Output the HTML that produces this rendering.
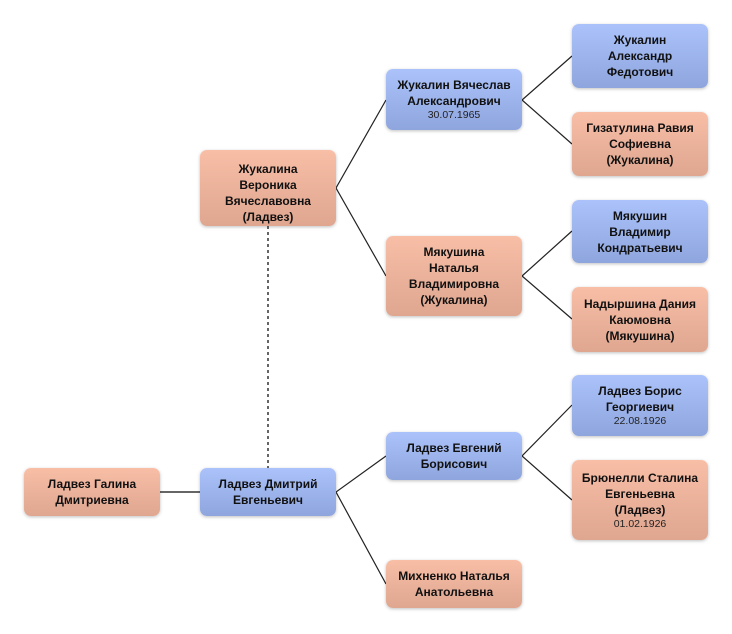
<!DOCTYPE html>
<html><head><meta charset="utf-8"><style>
body{margin:0;width:732px;height:634px;background:#fff;position:relative;overflow:hidden;font-family:"Liberation Sans",sans-serif;}
svg{position:absolute;left:0;top:0}
.b{position:absolute;width:136px;border-radius:7px;box-shadow:0 1px 3px rgba(0,0,0,.25);display:flex;flex-direction:column;justify-content:center;align-items:center;text-align:center;font-weight:bold;font-size:12px;line-height:16px;color:#111;overflow:hidden;box-sizing:border-box;padding:0 6px}
.m{background:linear-gradient(#abc2fa,#8ea5dd)}
.f{background:linear-gradient(#f8bea6,#dfa690)}
.d{font-weight:normal;font-size:10.5px;line-height:13px;color:#222}
</style></head><body>
<svg width="732" height="634">
<g stroke="#222" stroke-width="1.2" fill="none">
<polyline points="386,100 336,188 386,276"/>
<polyline points="386,456 336,492 386,584"/>
<polyline points="572,56 522,100 572,144"/>
<polyline points="572,231 522,276 572,319"/>
<polyline points="572,405 522,456 572,500"/>
</g>
<line x1="160" y1="492" x2="200" y2="492" stroke="#666" stroke-width="2"/>
<line x1="268" y1="226" x2="268" y2="468" stroke="#666" stroke-width="2" stroke-dasharray="3,3"/>
</svg>
<div class="b f" style="left:24px;top:468px;height:48px">Ладвез Галина Дмитриевна</div>
<div class="b m" style="left:200px;top:468px;height:48px">Ладвез Дмитрий Евгеньевич</div>
<div class="b f" style="left:200px;top:150px;height:76px;justify-content:flex-start;padding-top:11px">Жукалина<br>Вероника<br>Вячеславовна<br>(Ладвез)</div>
<div class="b m" style="left:386px;top:69px;height:61px">Жукалин Вячеслав Александрович<span class="d">30.07.1965</span></div>
<div class="b f" style="left:386px;top:236px;height:80px">Мякушина<br>Наталья<br>Владимировна<br>(Жукалина)</div>
<div class="b m" style="left:386px;top:432px;height:48px">Ладвез Евгений Борисович</div>
<div class="b f" style="left:386px;top:560px;height:48px">Михненко Наталья Анатольевна</div>
<div class="b m" style="left:572px;top:24px;height:64px">Жукалин<br>Александр<br>Федотович</div>
<div class="b f" style="left:572px;top:112px;height:64px">Гизатулина Равия Софиевна (Жукалина)</div>
<div class="b m" style="left:572px;top:200px;height:63px">Мякушин<br>Владимир<br>Кондратьевич</div>
<div class="b f" style="left:572px;top:287px;height:65px">Надыршина Дания Каюмовна (Мякушина)</div>
<div class="b m" style="left:572px;top:375px;height:61px">Ладвез Борис Георгиевич<span class="d">22.08.1926</span></div>
<div class="b f" style="left:572px;top:460px;height:80px">Брюнелли Сталина<br>Евгеньевна<br>(Ладвез)<span class="d">01.02.1926</span></div>
</body></html>
